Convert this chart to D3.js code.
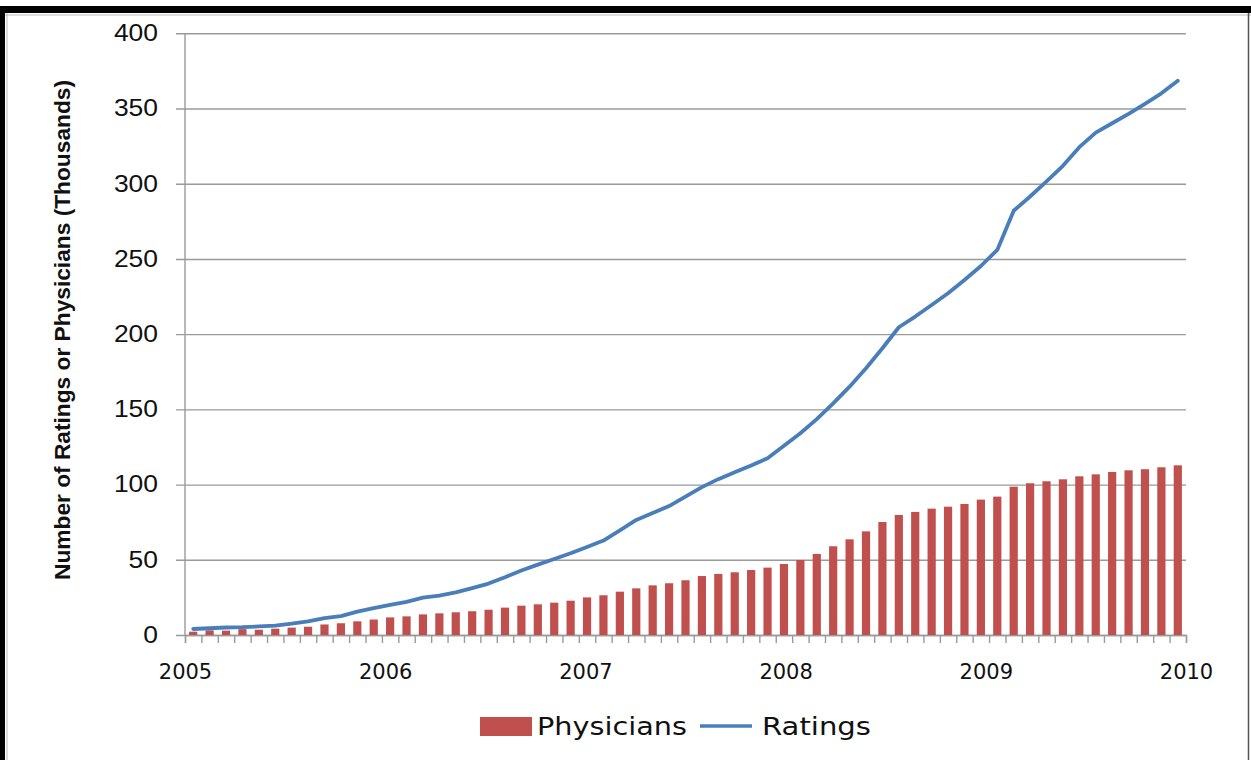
<!DOCTYPE html>
<html>
<head>
<meta charset="utf-8">
<script src="https://cdn.jsdelivr.net/npm/d3@7/dist/d3.min.js"></script>
<style>
  html, body { margin: 0; padding: 0; background: #fff; }
  svg { display: block; }
  text { font-family: "DejaVu Sans", "Liberation Sans", sans-serif; fill: #111; }
</style>
</head>
<body>
<svg id="chart" width="1251" height="760"></svg>
<script>
// Monthly snapshots, Jan 2005 .. Jan 2010
const months = d3.range(61).map(i => {
  const yr = 2005 + Math.floor(i / 12), m = (i % 12) + 1;
  return yr + "-" + String(m).padStart(2, "0");
});

// Physicians rated (thousands)
const physicians = [
  2.2, 3.1, 2.9, 3.9, 3.5, 4.2, 4.9, 5.5, 7.0, 7.8, 9.1, 10.3,
  11.7, 12.4, 13.7, 14.4, 15.1, 15.8, 16.8, 18.2, 19.5, 20.4, 21.5, 22.8,
  25.0, 26.4, 28.8, 31.0, 33.0, 34.4, 36.4, 39.2, 40.6, 41.7, 43.2, 44.8,
  47.2, 49.9, 53.9, 59.0, 63.6, 68.9, 75.1, 79.8, 81.8, 84.0, 85.3, 87.1,
  90.0, 92.0, 98.6, 100.9, 102.2, 103.5, 105.5, 106.8, 108.4, 109.5, 110.2, 111.5,
  112.8
];

// Cumulative ratings (thousands)
const ratings = [
  4.0, 4.5, 5.0, 5.2, 5.7, 6.3, 7.5, 9.0, 11.2, 12.6, 15.5, 17.8,
  20.0, 22.0, 24.8, 26.2, 28.3, 31.2, 34.2, 38.4, 42.9, 46.8, 50.5, 54.3,
  58.5, 62.8, 69.5, 76.5, 81.1, 85.7, 92.0, 98.3, 103.6, 108.2, 112.7, 117.5,
  125.8, 134.1, 143.5, 154.0, 165.1, 177.3, 190.6, 204.6, 211.7, 219.4, 227.2, 236.0,
  245.3, 256.0, 282.0, 291.5, 301.5, 311.9, 324.3, 334.0, 340.2, 346.4, 353.1, 360.1,
  368.4
];

const yearLabels = ["2005", "2006", "2007", "2008", "2009", "2010"];
const yTicks = [0, 50, 100, 150, 200, 250, 300, 350, 400];

const svg = d3.select("#chart");
const plotLeft = 185, plotRight = 1186, plotTop = 33.3, plotBottom = 635;

// frame
svg.append("rect").attr("x", 0).attr("y", 6).attr("width", 1251).attr("height", 7).attr("fill", "#000");
svg.append("rect").attr("x", 0).attr("y", 6).attr("width", 5).attr("height", 754).attr("fill", "#000");
svg.append("line").attr("x1", 7).attr("x2", 7).attr("y1", 13).attr("y2", 760).attr("stroke", "#bbb").attr("stroke-width", 1);
svg.append("line").attr("x1", 5).attr("x2", 1251).attr("y1", 15).attr("y2", 15).attr("stroke", "#bbb").attr("stroke-width", 1);
svg.append("line").attr("x1", 1248.5).attr("x2", 1248.5).attr("y1", 13).attr("y2", 760).attr("stroke", "#555").attr("stroke-width", 1.5);

const x = d3.scaleBand().domain(months).range([plotLeft, plotRight]).paddingInner(0.5).paddingOuter(0.25);
const xEdge = d3.scaleLinear().domain([0, months.length]).range([plotLeft, plotRight]);
const xYear = d3.scaleLinear().domain([+yearLabels[0], +yearLabels[yearLabels.length - 1]]).range([plotLeft, plotRight]);
const y = d3.scaleLinear().domain([0, 400]).range([plotBottom, plotTop]);

// horizontal gridlines + y tick labels
const yAxis = svg.append("g")
  .attr("transform", `translate(${plotLeft - 9},0)`)
  .call(d3.axisLeft(y).tickValues(yTicks).tickSize(-(plotRight - plotLeft + 9)).tickPadding(18).tickFormat(d3.format("d")));
yAxis.select(".domain").remove();
yAxis.selectAll(".tick line").attr("stroke", "#9a9a9a").attr("stroke-width", 1.4);
yAxis.selectAll(".tick text").attr("font-size", 23).attr("fill", "#111")
  .style("font-family", '"Liberation Sans", Arial, sans-serif')
  .attr("transform", "scale(1.15,1)")
  .attr("x", -18 / 1.15);

// vertical axis line
svg.append("line").attr("x1", plotLeft).attr("x2", plotLeft).attr("y1", plotTop).attr("y2", plotBottom)
  .attr("stroke", "#9a9a9a").attr("stroke-width", 1.4);

// month tick marks along the category axis
const xTickAxis = svg.append("g")
  .attr("transform", `translate(0,${plotBottom})`)
  .call(d3.axisBottom(xEdge).tickValues(d3.range(months.length + 1)).tickSize(8).tickFormat(""));
xTickAxis.select(".domain").attr("stroke", "#9a9a9a").attr("stroke-width", 1.4);
xTickAxis.selectAll(".tick line").attr("stroke", "#9a9a9a").attr("stroke-width", 1.4);

// year labels
const xLab = svg.append("g")
  .attr("transform", `translate(0,${plotBottom})`)
  .call(d3.axisBottom(xYear).tickValues(yearLabels.map(Number)).tickSize(0).tickPadding(29)
    .tickFormat(d3.format("d")));
xLab.select(".domain").remove();
xLab.selectAll(".tick text").attr("font-size", 21).attr("fill", "#111")
  .style("font-family", '"DejaVu Sans", sans-serif');

// physicians bars
svg.append("g").selectAll("rect")
  .data(physicians)
  .join("rect")
  .attr("x", (d, i) => x(months[i]))
  .attr("width", x.bandwidth())
  .attr("y", d => y(d))
  .attr("height", d => y(0) - y(d))
  .attr("fill", "#c0504d");

// ratings line
const line = d3.line()
  .x((d, i) => x(months[i]) + x.bandwidth() / 2)
  .y(d => y(d));
svg.append("path")
  .datum(ratings)
  .attr("d", line)
  .attr("fill", "none")
  .attr("stroke", "#4a7ebb")
  .attr("stroke-width", 3.8)
  .attr("stroke-linejoin", "round")
  .attr("stroke-linecap", "round");

// y-axis title
svg.append("text")
  .attr("transform", "translate(70,330) rotate(-90)")
  .attr("text-anchor", "middle")
  .attr("font-size", 22)
  .attr("font-weight", "bold")
  .attr("textLength", 500)
  .attr("lengthAdjust", "spacingAndGlyphs")
  .style("font-family", '"Liberation Sans Narrow", "Liberation Sans", Arial, sans-serif')
  .text("Number of Ratings or Physicians (Thousands)");

// legend
const legend = svg.append("g");
legend.append("rect").attr("x", 480).attr("y", 717).attr("width", 52).attr("height", 19).attr("fill", "#c0504d");
legend.append("text").attr("x", 537).attr("y", 735).attr("font-size", 25)
  .attr("textLength", 150).attr("lengthAdjust", "spacingAndGlyphs")
  .style("font-family", '"DejaVu Sans", sans-serif')
  .text("Physicians");
legend.append("line").attr("x1", 700).attr("x2", 752).attr("y1", 726).attr("y2", 726)
  .attr("stroke", "#4a7ebb").attr("stroke-width", 3.5);
legend.append("text").attr("x", 762).attr("y", 735).attr("font-size", 25)
  .attr("textLength", 109).attr("lengthAdjust", "spacingAndGlyphs")
  .style("font-family", '"DejaVu Sans", sans-serif')
  .text("Ratings");
</script>
</body>
</html>
